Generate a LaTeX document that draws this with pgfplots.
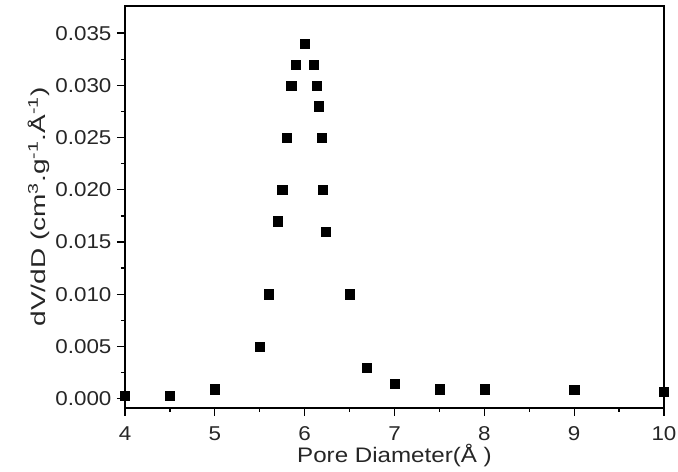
\documentclass[border=0pt]{standalone}
\usepackage{fontspec}
\setmainfont{Liberation Sans}
\newfontfamily\ylabelfont{Liberation Sans}[FakeStretch=1.4]
\newfontfamily\xlabelfont{Liberation Sans}[FakeStretch=1.15]
\newfontfamily\tickfont{Liberation Sans}[FakeStretch=1.12]
\usepackage{pgfplots}
\pgfplotsset{compat=1.18}
\begin{document}
\begin{tikzpicture}
\begin{axis}[
  scale only axis,
  width=539pt, height=402pt,
  xmin=4, xmax=10,
  ymin=-0.00089, ymax=0.0376,
  xtick={4,5,6,7,8,9,10},
  xticklabels={4,5,6,7,8,9,10},
  ytick={0,0.005,0.010,0.015,0.020,0.025,0.030,0.035},
  yticklabels={0.000,0.005,0.010,0.015,0.020,0.025,0.030,0.035},
  minor x tick num=1,
  minor y tick num=1,
  xtick pos=bottom, ytick pos=left,
  tick align=outside,
  major tick length=8pt, minor tick length=4pt,
  every tick/.style={line width=1.3pt, black},
  axis line style={line width=1.5pt},
  scaled y ticks=false,
  xticklabel style={font=\tickfont\fontsize{20}{22}\selectfont, text=black!85, yshift=-7pt},
  yticklabel style={font=\tickfont\fontsize{20}{22}\selectfont, text=black!85, xshift=-2pt},
  xlabel style={font=\xlabelfont\fontsize{21}{23}\selectfont, text=black!85, yshift=3pt},
  ylabel style={font=\ylabelfont\fontsize{20}{22}\selectfont, text=black!85, yshift=-1pt},
  xlabel={Pore Diameter(Å )},
  ylabel={dV/dD (cm\textsuperscript{3}.g\textsuperscript{-1}.Å\textsuperscript{-1})},
]
\coordinate (bl) at (rel axis cs:-0.2319,-0.1592);
\coordinate (tr) at (rel axis cs:1.026,1.0149);
\addplot[only marks, mark=square*, mark size=4.6pt, black] coordinates {
(4.0,0.0003) (4.5,0.0003) (5.0,0.0009) (5.5,0.0050) (5.6,0.0100)
(5.7,0.0170) (5.75,0.0200) (5.8,0.0250) (5.85,0.0300) (5.9,0.0320)
(6.0,0.0340) (6.1,0.0320) (6.13,0.0300) (6.16,0.0280) (6.19,0.0250)
(6.2,0.0200) (6.23,0.0160) (6.5,0.0100) (6.69,0.0030) (7.0,0.0014)
(7.5,0.0009) (8.0,0.0009) (9.0,0.00085) (10.0,0.00065)
};
\end{axis}
\pgfresetboundingbox
\path[use as bounding box] (bl) rectangle (tr);
\end{tikzpicture}
\end{document}
